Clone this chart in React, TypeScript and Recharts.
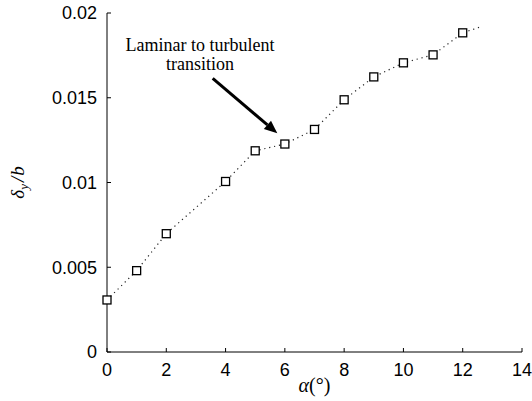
import React from 'react';
import { ComposedChart, Line, XAxis, YAxis } from 'recharts';

const W = 532;
const H = 401;

// angle of attack (deg) and measured delta_y / b
const alphaDeg = [0, 1, 2, 4, 5, 6, 7, 8, 9, 10, 11, 12];
const deltaOverB = [0.00307, 0.0048, 0.00698, 0.01006, 0.01187, 0.01227, 0.01313, 0.01488, 0.01623, 0.01706, 0.01753, 0.01883];
// dotted trend continues a little past the last measurement
const tailAlpha = [12.6];
const tailDelta = [0.01918];

const xTicks = [0, 2, 4, 6, 8, 10, 12, 14];
const yTicks = [0, 0.005, 0.01, 0.015, 0.02];

const rows = [
  ...alphaDeg.map((a, i) => ({ alpha: a, delta: deltaOverB[i], marker: true })),
  ...tailAlpha.map((a, i) => ({ alpha: a, delta: tailDelta[i], marker: false })),
];

const SANS = '"Liberation Sans", Arial, Helvetica, sans-serif';
const SERIF = '"Liberation Serif", "Times New Roman", serif';
const X_MARGIN = 11;
const Y_MARGIN = 10;
const TICK_LEN = 4;

const SquareDot = (props: any) => {
  const { cx, cy, payload, index } = props;
  if (!payload || !payload.marker) return <g key={`d-${index}`} />;
  return (
    <rect key={`d-${index}`} x={cx - 4} y={cy - 4} width={8} height={8} fill="#fff" stroke="#000" strokeWidth={1.3} />
  );
};

const XTick = (props: any) => {
  const { x, y, payload } = props;
  const axisY = y - X_MARGIN;
  return (
    <g>
      <line x1={x} x2={x} y1={axisY} y2={axisY - TICK_LEN} stroke="#000" />
      <text x={x} y={y} dy="0.71em" textAnchor="middle" fontFamily={SANS} fontSize={18} fill="#000">
        {payload.value}
      </text>
    </g>
  );
};

const YTick = (props: any) => {
  const { x, y, payload } = props;
  const axisX = x + Y_MARGIN;
  return (
    <g>
      <line x1={axisX} x2={axisX + TICK_LEN} y1={y} y2={y} stroke="#000" />
      <text x={x} y={y} dy="0.355em" textAnchor="end" fontFamily={SANS} fontSize={18} fill="#000">
        {String(payload.value)}
      </text>
    </g>
  );
};

const XLabel = (props: any) => {
  const vb = props.viewBox || {};
  const cx = vb.x + vb.width / 2;
  return (
    <text x={cx} y={vb.y + 40} textAnchor="middle" fontFamily={SERIF} fontSize={20} fill="#000">
      <tspan fontStyle="italic">α</tspan>
      <tspan>(°)</tspan>
    </text>
  );
};

const YLabel = (props: any) => {
  const vb = props.viewBox || {};
  const cx = vb.x + 17;
  const cy = vb.y + vb.height / 2;
  return (
    <text
      x={cx}
      y={cy}
      dy="0.35em"
      textAnchor="middle"
      transform={`rotate(-90, ${cx}, ${cy})`}
      fontFamily={SERIF}
      fontStyle="italic"
      fontSize={19}
      fill="#000"
    >
      <tspan>δ</tspan>
      <tspan dy={4} fontSize={13}>y</tspan>
      <tspan dy={-4} dx={2}>/</tspan>
      <tspan dx={1}>b</tspan>
    </text>
  );
};

export default function App() {
  return (
    <div style={{ position: 'absolute', left: 0, top: 0, width: W, height: H, background: '#fff' }}>
      <ComposedChart width={W} height={H} data={rows} margin={{ top: 13, right: 10, bottom: 0, left: 0 }}>
        <XAxis
          type="number"
          dataKey="alpha"
          domain={[0, 14]}
          ticks={xTicks}
          interval={0}
          height={49}
          axisLine={{ stroke: '#000' }}
          tickLine={false}
          tickSize={0}
          tickMargin={X_MARGIN}
          tick={<XTick />}
          label={<XLabel />}
        />
        <YAxis
          type="number"
          domain={[0, 0.02]}
          ticks={yTicks}
          interval={0}
          width={107}
          axisLine={{ stroke: '#000' }}
          tickLine={false}
          tickSize={0}
          tickMargin={Y_MARGIN}
          tick={<YTick />}
          label={<YLabel />}
        />
        <Line
          type="linear"
          dataKey="delta"
          stroke="#222"
          strokeWidth={1.2}
          strokeDasharray="1.2 3.8"
          dot={SquareDot}
          activeDot={false}
          isAnimationActive={false}
        />
      </ComposedChart>
      <svg width={W} height={H} style={{ position: 'absolute', left: 0, top: 0, pointerEvents: 'none' }}>
        <text x={200} y={51} textAnchor="middle" fontFamily={SERIF} fontSize={18} fill="#000">
          Laminar to turbulent
        </text>
        <text x={200} y={70} textAnchor="middle" fontFamily={SERIF} fontSize={18} fill="#000">
          transition
        </text>
        <line x1={212.7} y1={78.3} x2={267.4} y2={124.9} stroke="#000" strokeWidth={3} />
        <polygon points="277.3,133.3 263.8,129.1 271.0,120.7" fill="#000" />
      </svg>
    </div>
  );
}
